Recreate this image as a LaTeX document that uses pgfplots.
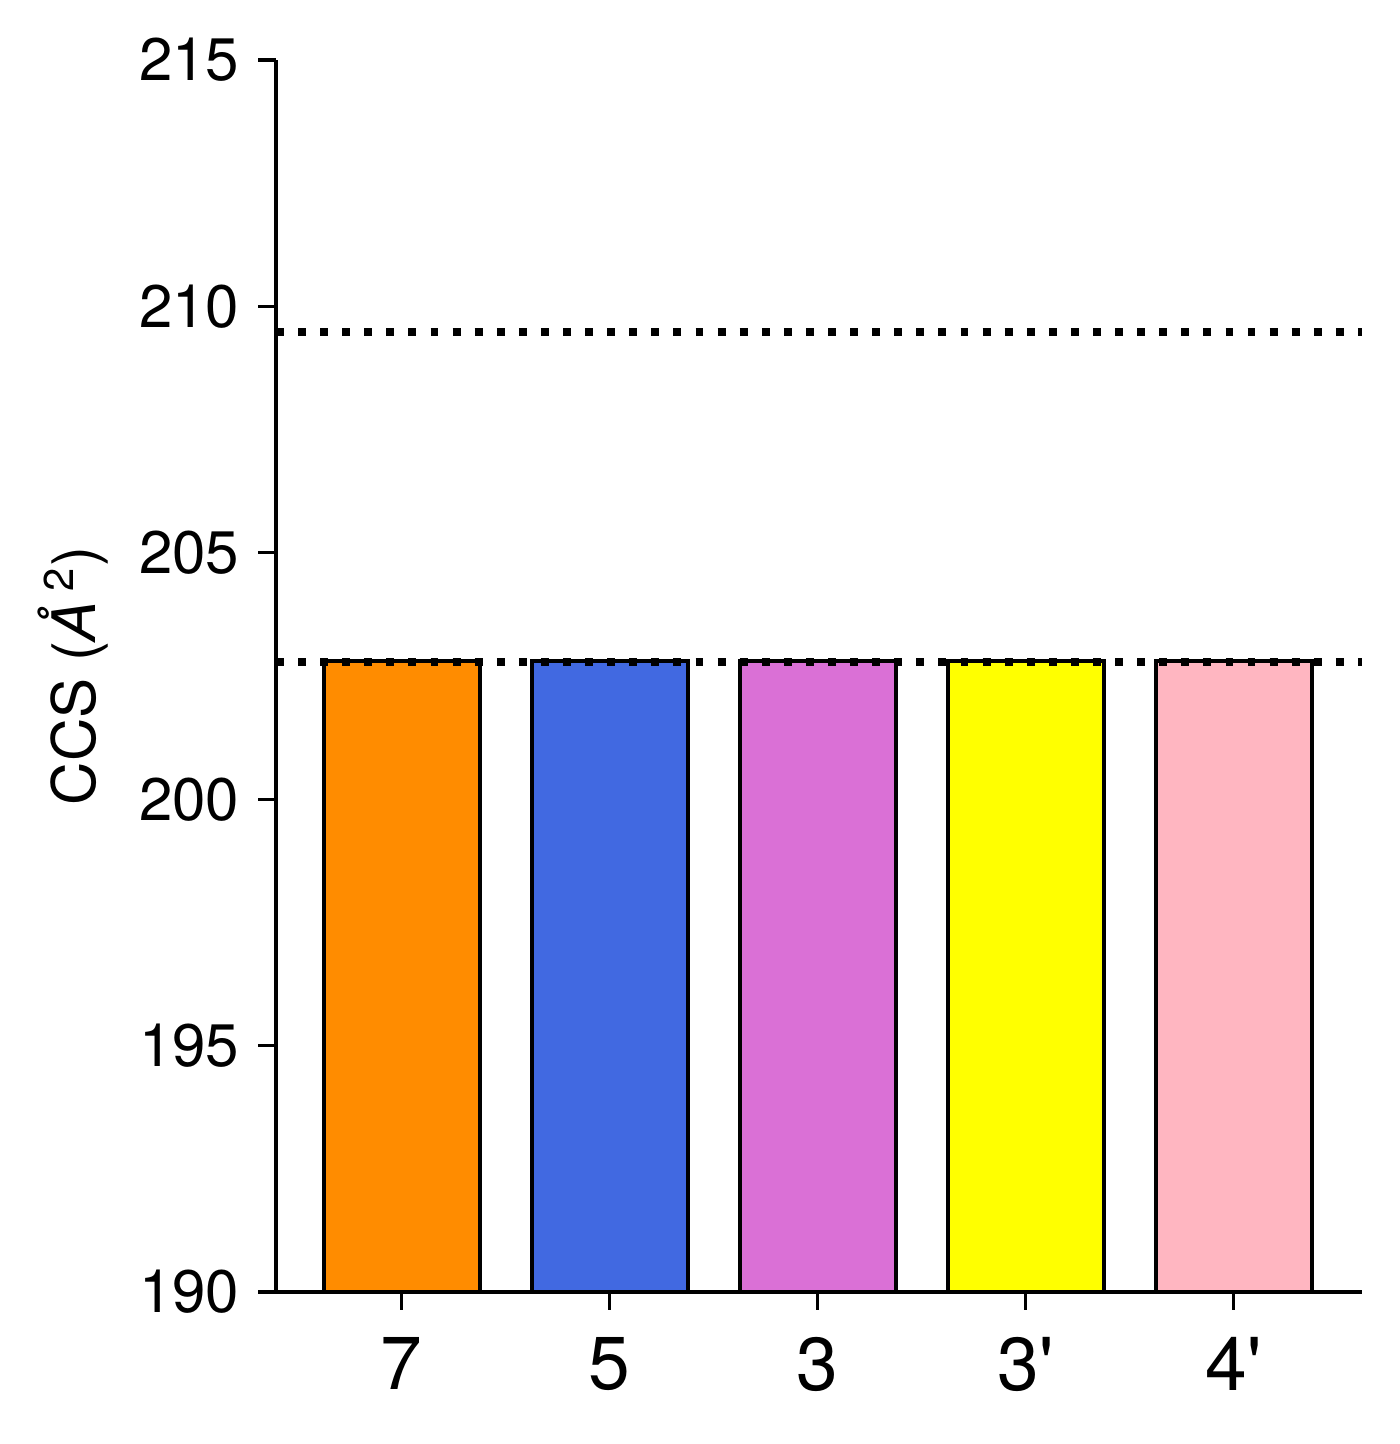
\documentclass[border=0pt]{standalone}
\usepackage{pgfplots}
\pgfplotsset{compat=1.18}
\usepackage{fontspec}
\setmainfont{TeX Gyre Heros}
\definecolor{cOrange}{RGB}{255,140,0}
\definecolor{cBlue}{RGB}{65,105,225}
\definecolor{cOrchid}{RGB}{218,112,214}
\definecolor{cYellow}{RGB}{255,255,0}
\definecolor{cPink}{RGB}{255,182,193}
\begin{document}
\begin{tikzpicture}
\begin{axis}[
  scale only axis,
  width=260.6pt, height=295.7pt,
  xmin=-0.605, xmax=4.615,
  ymin=190, ymax=215,
  axis x line*=bottom, axis y line*=left,
  axis line style={line width=0.8pt, -},
  xtick={0,1,2,3,4},
  xticklabels={7,5,3,3\textquotesingle,4\textquotesingle},
  ytick={190,195,200,205,210,215},
  tick style={line width=0.8pt, black},
  major tick length=4.3pt,
  tick align=outside,
  x tick label style={font=\fontsize{18}{20}\selectfont, yshift=-3pt},
  y tick label style={font=\fontsize{14.4}{16}\selectfont, xshift=-1pt},
  /pgf/number format/assume math mode=true,
  ylabel={CCS (\textit{Å}\,\textsuperscript{2})},
  ylabel style={font=\fontsize{14.4}{16}\selectfont, yshift=0.5pt},
  clip=true,
]
\addplot[ybar, bar width=0.75, bar shift=0pt, fill=cOrange, draw=black, line width=0.85pt] coordinates {(0,202.8)};
\addplot[ybar, bar width=0.75, bar shift=0pt, fill=cBlue, draw=black, line width=0.85pt] coordinates {(1,202.8)};
\addplot[ybar, bar width=0.75, bar shift=0pt, fill=cOrchid, draw=black, line width=0.85pt] coordinates {(2,202.8)};
\addplot[ybar, bar width=0.75, bar shift=0pt, fill=cYellow, draw=black, line width=0.85pt] coordinates {(3,202.8)};
\addplot[ybar, bar width=0.75, bar shift=0pt, fill=cPink, draw=black, line width=0.85pt] coordinates {(4,202.8)};
\addplot[black, line width=1.9pt, dash pattern=on 1.9pt off 3.4pt] coordinates {(-0.605,209.48) (4.615,209.48)};
\addplot[black, line width=1.9pt, dash pattern=on 1.9pt off 3.4pt] coordinates {(-0.605,202.78) (4.615,202.78)};
\coordinate (sw) at (rel axis cs:0,0);
\coordinate (ne) at (rel axis cs:1,1);
\end{axis}
\path ([shift={(-66.24pt,-36.48pt)}]sw) rectangle ([shift={(9.12pt,14.4pt)}]ne);
\end{tikzpicture}
\end{document}
